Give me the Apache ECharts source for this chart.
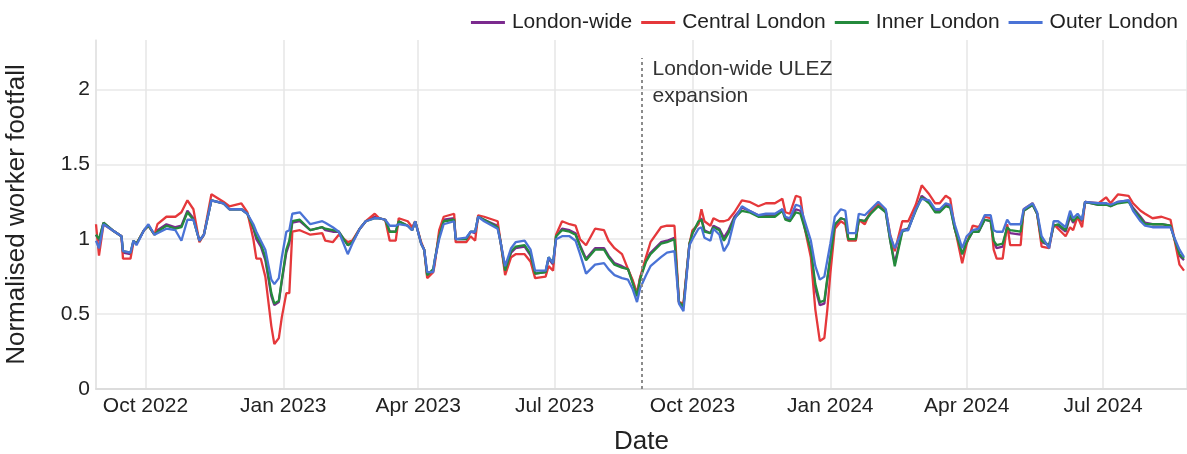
<!DOCTYPE html>
<html>
<head>
<meta charset="utf-8">
<script src="https://cdn.jsdelivr.net/npm/echarts@6/dist/echarts.min.js"></script>
<style>
  html, body { margin: 0; padding: 0; background: #fff; }
  #chart { width: 1187px; height: 454px; }
</style>
</head>
<body>
<div id="chart"></div>
<script>
// daily dates (irregular steps, follows the shape of the lines)
const dates = [
  '2022-08-29','2022-08-31','2022-09-03','2022-09-09','2022-09-15','2022-09-16','2022-09-21','2022-09-23','2022-09-25','2022-09-30',
  '2022-10-03','2022-10-07','2022-10-09','2022-10-15','2022-10-21','2022-10-25','2022-10-29','2022-11-02','2022-11-06','2022-11-09',
  '2022-11-14','2022-11-22','2022-11-26','2022-12-04','2022-12-08','2022-12-12','2022-12-14','2022-12-17','2022-12-20','2022-12-24',
  '2022-12-26','2022-12-29','2022-12-31','2023-01-03','2023-01-05','2023-01-07','2023-01-12','2023-01-19','2023-01-27','2023-01-29',
  '2023-02-03','2023-02-07','2023-02-13','2023-02-16','2023-02-21','2023-02-25','2023-03-03','2023-03-06','2023-03-10','2023-03-13',
  '2023-03-17','2023-03-19','2023-03-25','2023-03-28','2023-03-30','2023-04-03','2023-04-05','2023-04-07','2023-04-11','2023-04-12',
  '2023-04-15','2023-04-18','2023-04-25','2023-04-26','2023-05-03','2023-05-06','2023-05-09','2023-05-11','2023-05-15','2023-05-24',
  '2023-05-26','2023-05-29','2023-06-02','2023-06-05','2023-06-11','2023-06-15','2023-06-18','2023-06-25','2023-06-27','2023-06-30',
  '2023-07-02','2023-07-06','2023-07-11','2023-07-15','2023-07-18','2023-07-22','2023-07-28','2023-08-03','2023-08-06','2023-08-10',
  '2023-08-15','2023-08-19','2023-08-22','2023-08-25','2023-08-27','2023-08-31','2023-09-03','2023-09-10','2023-09-14','2023-09-19',
  '2023-09-22','2023-09-25','2023-09-29','2023-10-01','2023-10-05','2023-10-07','2023-10-09','2023-10-13','2023-10-15','2023-10-19',
  '2023-10-22','2023-10-25','2023-10-29','2023-11-03','2023-11-08','2023-11-14','2023-11-19','2023-11-25','2023-11-30','2023-12-02',
  '2023-12-05','2023-12-09','2023-12-12','2023-12-15','2023-12-19','2023-12-22','2023-12-25','2023-12-28','2023-12-30','2024-01-01',
  '2024-01-04','2024-01-08','2024-01-11','2024-01-13','2024-01-18','2024-01-20','2024-01-24','2024-01-28','2024-02-02','2024-02-07',
  '2024-02-10','2024-02-13','2024-02-18','2024-02-22','2024-02-27','2024-03-02','2024-03-07','2024-03-11','2024-03-14','2024-03-18',
  '2024-03-21','2024-03-24','2024-03-29','2024-04-01','2024-04-05','2024-04-09','2024-04-13','2024-04-17','2024-04-19','2024-04-21',
  '2024-04-25','2024-04-28','2024-04-30','2024-05-07','2024-05-09','2024-05-15','2024-05-18','2024-05-21','2024-05-26','2024-05-29',
  '2024-06-01','2024-06-06','2024-06-09','2024-06-11','2024-06-14','2024-06-17','2024-06-19','2024-06-28','2024-07-03','2024-07-06',
  '2024-07-11','2024-07-18','2024-07-21','2024-07-26','2024-07-29','2024-08-03','2024-08-09','2024-08-15','2024-08-18','2024-08-21','2024-08-24'
];

const londonWide = [
  1.03,0.99,1.11,1.06,1.02,0.91,0.90,0.99,0.97,1.06,
  1.09,1.03,1.06,1.10,1.08,1.09,1.19,1.14,0.99,1.03,
  1.26,1.24,1.20,1.20,1.17,1.07,1.00,0.95,0.86,0.62,
  0.56,0.58,0.72,0.91,0.97,1.11,1.12,1.06,1.08,1.06,
  1.05,1.05,0.96,0.98,1.07,1.12,1.15,1.14,1.13,1.05,
  1.05,1.12,1.09,1.06,1.12,0.97,0.93,0.76,0.79,0.85,
  1.03,1.13,1.14,1.00,1.00,1.05,1.04,1.15,1.13,1.09,
  0.98,0.79,0.91,0.94,0.95,0.89,0.77,0.78,0.87,0.83,
  1.02,1.07,1.06,1.04,0.96,0.87,0.94,0.94,0.89,0.84,
  0.82,0.80,0.72,0.62,0.74,0.86,0.91,0.98,0.99,1.01,
  0.58,0.56,0.97,1.04,1.11,1.14,1.06,1.04,1.09,1.07,
  1.01,1.06,1.15,1.21,1.19,1.16,1.16,1.16,1.20,1.14,
  1.13,1.20,1.19,1.08,0.92,0.67,0.56,0.57,0.73,0.87,
  1.09,1.14,1.13,1.00,1.00,1.13,1.12,1.18,1.23,1.18,
  0.99,0.84,1.06,1.07,1.20,1.29,1.25,1.19,1.19,1.23,
  1.22,1.07,0.90,0.98,1.05,1.05,1.13,1.12,0.98,0.94,
  0.95,1.08,1.04,1.03,1.19,1.23,1.17,0.98,0.96,1.09,
  1.09,1.05,1.15,1.11,1.15,1.12,1.25,1.23,1.24,1.22,
  1.25,1.26,1.21,1.15,1.11,1.10,1.10,1.09,0.99,0.89,0.86
];

const central = [
  1.10,0.89,1.10,1.06,1.02,0.87,0.87,0.98,0.97,1.06,
  1.09,1.03,1.10,1.15,1.15,1.18,1.26,1.20,0.98,1.03,
  1.30,1.25,1.22,1.24,1.18,1.00,0.87,0.87,0.75,0.42,
  0.30,0.34,0.48,0.64,0.64,1.05,1.06,1.03,1.04,0.99,
  0.98,1.03,0.98,0.99,1.07,1.12,1.17,1.14,1.13,0.99,
  0.99,1.14,1.12,1.08,1.12,0.98,0.93,0.74,0.78,0.83,
  1.06,1.15,1.17,0.98,0.98,1.02,0.99,1.16,1.15,1.12,
  0.98,0.76,0.88,0.90,0.90,0.85,0.74,0.75,0.82,0.79,
  1.03,1.12,1.10,1.09,1.00,0.96,1.07,1.06,0.99,0.94,
  0.90,0.80,0.73,0.64,0.74,0.88,0.98,1.08,1.09,1.09,
  0.58,0.57,0.97,1.06,1.10,1.20,1.12,1.09,1.14,1.12,
  1.12,1.13,1.18,1.26,1.25,1.22,1.24,1.24,1.27,1.18,
  1.17,1.29,1.28,1.07,0.88,0.53,0.32,0.34,0.53,0.77,
  1.07,1.12,1.10,0.99,0.99,1.13,1.10,1.19,1.24,1.19,
  1.03,0.92,1.12,1.12,1.23,1.36,1.30,1.24,1.24,1.29,
  1.27,1.08,0.84,0.97,1.09,1.08,1.15,1.14,0.93,0.87,
  0.87,1.10,0.96,0.96,1.20,1.24,1.17,0.95,0.94,1.10,
  1.07,1.02,1.08,1.06,1.15,1.08,1.25,1.24,1.28,1.24,
  1.30,1.29,1.24,1.19,1.17,1.14,1.15,1.13,0.98,0.83,0.79
];

const inner = [
  1.03,1.00,1.11,1.06,1.02,0.92,0.91,0.99,0.97,1.06,
  1.09,1.03,1.05,1.09,1.07,1.08,1.18,1.13,0.99,1.03,
  1.26,1.24,1.20,1.20,1.17,1.08,1.02,0.97,0.88,0.64,
  0.57,0.59,0.73,0.93,0.99,1.12,1.13,1.06,1.08,1.07,
  1.06,1.05,0.96,0.98,1.07,1.12,1.14,1.14,1.13,1.05,
  1.05,1.12,1.09,1.06,1.12,0.97,0.93,0.76,0.80,0.86,
  1.02,1.12,1.13,1.00,1.00,1.05,1.05,1.15,1.13,1.08,
  0.98,0.79,0.92,0.95,0.96,0.90,0.77,0.78,0.88,0.84,
  1.02,1.06,1.05,1.03,0.95,0.86,0.93,0.93,0.88,0.83,
  0.81,0.80,0.71,0.62,0.73,0.85,0.90,0.97,0.98,1.00,
  0.58,0.55,0.97,1.04,1.12,1.13,1.05,1.04,1.08,1.06,
  0.99,1.04,1.14,1.19,1.18,1.15,1.15,1.15,1.19,1.13,
  1.12,1.18,1.17,1.07,0.93,0.70,0.58,0.59,0.74,0.88,
  1.10,1.14,1.13,1.00,1.00,1.13,1.12,1.17,1.22,1.18,
  0.99,0.82,1.05,1.07,1.19,1.28,1.24,1.18,1.18,1.22,
  1.21,1.07,0.90,0.98,1.05,1.05,1.13,1.12,0.99,0.96,
  0.97,1.08,1.06,1.05,1.19,1.23,1.17,0.99,0.96,1.09,
  1.10,1.06,1.17,1.12,1.15,1.13,1.25,1.23,1.23,1.22,
  1.24,1.25,1.20,1.14,1.10,1.10,1.10,1.09,0.99,0.90,0.87
];

const outer = [
  0.99,0.94,1.10,1.06,1.02,0.92,0.91,0.99,0.96,1.06,
  1.10,1.03,1.04,1.07,1.06,0.99,1.13,1.13,0.99,1.03,
  1.26,1.24,1.20,1.20,1.17,1.10,1.05,0.99,0.93,0.73,
  0.70,0.74,0.88,1.05,1.06,1.17,1.18,1.10,1.12,1.11,
  1.08,1.05,0.90,0.97,1.07,1.12,1.14,1.14,1.13,1.09,
  1.09,1.10,1.09,1.06,1.12,0.97,0.93,0.78,0.78,0.86,
  1.00,1.10,1.12,1.00,1.01,1.05,1.05,1.15,1.12,1.07,
  0.98,0.82,0.94,0.98,0.99,0.93,0.79,0.79,0.88,0.84,
  1.00,1.02,1.02,0.99,0.90,0.77,0.83,0.84,0.80,0.76,
  0.74,0.73,0.67,0.58,0.67,0.76,0.82,0.88,0.91,0.92,
  0.57,0.52,0.96,1.00,1.07,1.08,1.01,0.99,1.07,1.03,
  0.92,0.97,1.13,1.22,1.19,1.16,1.17,1.17,1.20,1.15,
  1.14,1.23,1.22,1.12,0.99,0.82,0.73,0.75,0.86,0.97,
  1.15,1.20,1.19,1.04,1.04,1.17,1.16,1.20,1.25,1.20,
  1.02,0.94,1.06,1.06,1.20,1.27,1.26,1.20,1.20,1.24,
  1.23,1.10,0.94,1.02,1.06,1.07,1.16,1.16,1.06,1.05,
  1.05,1.13,1.10,1.10,1.20,1.24,1.18,1.02,0.94,1.12,
  1.12,1.08,1.19,1.14,1.17,1.13,1.25,1.24,1.24,1.23,
  1.25,1.26,1.19,1.12,1.09,1.08,1.08,1.08,1.00,0.93,0.88
];

const yTicks = [0, 0.5, 1, 1.5, 2];
const ulezDate = '2023-08-28';
const ulezLabel = 'London-wide ULEZ\nexpansion';
const monthNames = ['Jan','Feb','Mar','Apr','May','Jun','Jul','Aug','Sep','Oct','Nov','Dec'];

const FONT = 'Liberation Sans, Arial, sans-serif';
const colors = {
  'London-wide': '#7b2a8e',
  'Central London': '#e5383b',
  'Inner London': '#248a3c',
  'Outer London': '#4a73d6'
};

const pairs = (vals) => dates.map((d, i) => [d, vals[i]]);

const lineSeries = (name, vals) => ({
  name: name,
  type: 'line',
  data: pairs(vals),
  showSymbol: false,
  symbol: 'none',
  lineStyle: { width: 2.3, color: colors[name] },
  itemStyle: { color: colors[name] },
  emphasis: { disabled: true }
});

const chart = echarts.init(document.getElementById('chart'));

const wide = lineSeries('London-wide', londonWide);
wide.markLine = {
  silent: true,
  symbol: ['none', 'none'],
  label: { show: false },
  lineStyle: { color: '#8c8c8c', type: [3, 3], width: 2 },
  data: [[{ coord: [ulezDate, 0] }, { coord: [ulezDate, 2.21] }]]
};
wide.markPoint = {
  silent: true,
  symbol: 'circle',
  symbolSize: 0,
  label: {
    show: true,
    position: 'right',
    distance: 11,
    formatter: ulezLabel,
    color: '#333',
    fontFamily: FONT,
    fontSize: 21,
    lineHeight: 27,
    align: 'left'
  },
  data: [{ coord: [ulezDate, 2.045] }]
};

chart.setOption({
  animation: false,
  textStyle: { fontFamily: FONT },
  grid: { left: 96, right: 0, top: 40, bottom: 65, outerBoundsMode: 'none', containLabel: false },
  legend: {
    right: 4,
    top: 7,
    icon: 'rect',
    itemWidth: 34,
    itemHeight: 3,
    itemGap: 9,
    textStyle: { fontSize: 21, color: '#222', fontFamily: FONT, padding: [0, 0, 0, 2] },
    data: ['London-wide', 'Central London', 'Inner London', 'Outer London']
  },
  xAxis: {
    type: 'time',
    min: '2022-08-29',
    max: '2024-08-26',
    maxInterval: 93 * 24 * 3600 * 1000,
    minInterval: 89 * 24 * 3600 * 1000,
    name: 'Date',
    nameLocation: 'middle',
    nameGap: 40,
    nameTextStyle: { fontSize: 26, color: '#222', fontFamily: FONT },
    axisLine: { show: true, lineStyle: { color: '#dcdcdc', width: 2 } },
    axisTick: { show: false },
    axisLabel: {
      fontSize: 21,
      color: '#222',
      margin: 7,
      showMinLabel: false,
      showMaxLabel: false,
      formatter: (v) => {
        const d = new Date(v);
        return monthNames[d.getMonth()] + ' ' + d.getFullYear();
      }
    },
    splitLine: { show: true, lineStyle: { color: '#e6e6e6', width: 1.5 } }
  },
  yAxis: {
    type: 'value',
    min: yTicks[0],
    max: 2.33,
    interval: 0.5,
    name: 'Normalised worker footfall',
    nameLocation: 'middle',
    nameGap: 66,
    nameTextStyle: { fontSize: 26, color: '#222', fontFamily: FONT },
    axisLine: { show: true, lineStyle: { color: '#e3e3e3', width: 1.5 } },
    axisTick: { show: false },
    axisLabel: {
      fontSize: 21,
      color: '#222',
      margin: 6,
      showMaxLabel: false,
      formatter: (v) => (yTicks.includes(v) ? String(v) : '')
    },
    splitLine: { show: true, showMaxLine: false, lineStyle: { color: '#e8e8e8', width: 1.5 } }
  },
  series: [
    wide,
    lineSeries('Central London', central),
    lineSeries('Inner London', inner),
    lineSeries('Outer London', outer)
  ]
});
</script>
</body>
</html>
